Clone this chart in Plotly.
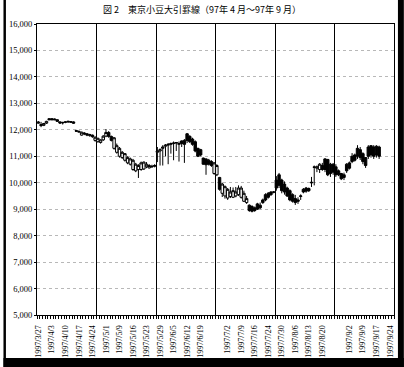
import plotly.graph_objects as go

title_text = "図 2　東京小豆大引罫線（97年 4 月～97年 9 月）"

# trading-day candles (index = trading day, 0 = 1997/3/27)
opens = [12250,12200,12170,12250,12420,12420,12410,12380,12300,12260,12280,12300,12310,12300,11970,11940,11800,11880,11850,11780,11800,11600,
         11550,11520,11620,11760,11900,11750,11300,11150,11000,10950,10850,10750,10700,10500,10450,10500,10500,10520,10600,10560,10600,10620,
         11150,11200,11300,11380,11420,11450,11480,11500,11450,11580,11600,11850,11750,11650,11550,11300,11250,10930,10900,10850,10800,10350,
         10300,10200,9600,9500,9420,9480,9450,9500,9550,9450,9300,9250,9150,9100,9050,9200,9150,9350,9550,9600,9650,9640,
         10100,10300,10100,9950,9800,9700,9550,9400,9350,9480,9750,9800,9780,10020,10600,10550,10500,10650,10900,10880,10700,10700,
         10600,10450,10350,10300,10700,10750,11000,11050,11300,11250,11100,10950,11350,11400,11350,11380,11350]
highs = [12330,12300,12260,12340,12440,12440,12430,12400,12320,12300,12320,12340,12330,12320,12000,11980,11930,11910,11880,11850,11820,11750,
         11700,11640,11800,12030,11950,11780,11720,11480,11350,11200,11120,11000,10950,10900,10750,10700,10800,10800,10780,10700,10680,10700,
         11350,11300,11420,11460,11500,11520,11560,11540,11560,11600,11650,11880,11800,11700,11600,11320,11280,10950,10920,10900,10850,10780,
         10700,10220,10000,9900,9800,9840,9820,9840,9900,9880,9700,9500,9180,9150,9100,9240,9250,9400,9600,9650,9680,9680,
         10250,10370,10150,10050,9850,9750,9600,9540,9450,9560,9800,9840,9820,10220,10650,10650,10740,10750,10930,10900,10750,10740,
         10700,10500,10370,10380,10740,10800,11120,11100,11420,11350,11150,10970,11420,11420,11420,11420,11400]
lows = [12230,12100,12140,12220,12370,12370,12370,12300,12220,12200,12250,12260,12270,12230,11930,11900,11780,11800,11760,11740,11700,11550,
        11520,11480,11580,11720,11700,11560,11250,11100,10950,10900,10800,10700,10650,10450,10400,10180,10450,10480,10550,10540,10560,10580,
        10780,10650,10650,11000,10700,11100,10850,11200,10800,11350,10750,11500,11500,11400,11150,10970,11000,10680,10300,10650,10600,10300,
        10250,9700,9460,9400,9350,9420,9420,9450,9500,9400,9270,9200,8900,8880,8900,8970,9000,9200,9300,9400,9500,9600,
        9700,9800,9600,9550,9460,9300,9250,9160,9200,9350,9600,9620,9650,9840,9900,10400,10370,10450,10400,10250,10220,10300,
        10220,10250,10100,10100,10370,10500,10740,10800,10900,10860,10700,10560,10900,10950,10900,10950,10900]
closes = [12290,12160,12240,12320,12380,12380,12380,12320,12260,12280,12300,12320,12290,12250,11950,11920,11910,11850,11800,11820,11740,11720,
          11680,11620,11760,11900,11750,11600,11700,11400,11300,11150,11100,10950,10900,10850,10700,10650,10750,10780,10700,10650,10620,10650,
          11200,11250,11350,11420,11450,11480,11500,11520,11480,11480,11450,11600,11550,11450,11200,11000,11050,10700,10680,10700,10650,10750,
          10650,9750,9950,9850,9750,9650,9700,9650,9800,9800,9600,9400,8950,8920,8950,9000,9050,9250,9350,9450,9550,9650,
          9800,9900,9700,9650,9500,9350,9300,9250,9300,9500,9650,9680,9700,10000,10580,10600,10700,10500,10500,10300,10350,10400,
          10300,10300,10150,10200,10450,10550,10800,10850,11000,10950,10800,10650,11000,11050,11000,11050,11000]

# date labels every 5 trading days (blank where the original shows none)
tick_pos = list(range(0, 131, 5))
tick_text = ["1997/3/27","1997/4/3","1997/4/10","1997/4/17","1997/4/24","1997/5/1","1997/5/9",
             "1997/5/16","1997/5/23","1997/5/29","1997/6/5","1997/6/12","1997/6/19","",
             "1997/7/2","1997/7/9","1997/7/16","1997/7/24","1997/7/30","1997/8/6","1997/8/13",
             "1997/8/20","","1997/9/2","1997/9/9","1997/9/17","1997/9/24"]
n_categories = 132
separator_every = 22

x = list(range(len(opens)))

fig = go.Figure()
fig.add_trace(go.Candlestick(
    x=x, open=opens, high=highs, low=lows, close=closes,
    increasing=dict(line=dict(color="black", width=1), fillcolor="white"),
    decreasing=dict(line=dict(color="black", width=1), fillcolor="black"),
    whiskerwidth=0, showlegend=False, hoverinfo="skip"))
# dummy trace for the separator axis
fig.add_trace(go.Scatter(x=[], y=[], xaxis="x2", yaxis="y", showlegend=False))

serif = "Liberation Serif"
sep_pos = [k * separator_every - 0.5 for k in range(1, n_categories // separator_every + 1)]

fig.update_layout(
    width=404, height=367,
    margin=dict(l=33, r=9, t=24, b=52),
    paper_bgcolor="white", plot_bgcolor="white",
    boxgap=0.05, boxgroupgap=0.05,
    title=dict(text=title_text, x=0.5, xanchor="center", y=0.972, yanchor="middle",
               font=dict(family="Noto Sans CJK JP", size=9, color="black")),
    xaxis=dict(range=[-0.5, n_categories - 0.5], rangeslider=dict(visible=False),
               tickmode="array", tickvals=tick_pos, ticktext=tick_text, tickangle=-90,
               tickfont=dict(family=serif, size=8, color="black"), ticks="",
               ticklabelstandoff=6,
               showline=True, linecolor="black", linewidth=1, mirror=True,
               showgrid=False, zeroline=False,
               minor=dict(tickmode="linear", tick0=-0.5, dtick=1, ticks="outside",
                          ticklen=3, tickcolor="black", tickwidth=1, showgrid=False)),
    xaxis2=dict(overlaying="x", matches="x", range=[-0.5, n_categories - 0.5],
                tickmode="array", tickvals=sep_pos, showticklabels=False, ticks="",
                showgrid=True, gridcolor="black", gridwidth=1, showline=False, zeroline=False),
    yaxis=dict(range=[5000, 16000], tickmode="linear", tick0=5000, dtick=1000,
               tickformat=",", tickfont=dict(family=serif, size=8.5, color="black"),
               ticks="outside", ticklen=2, tickcolor="black",
               showline=True, linecolor="black", linewidth=1, mirror=True,
               showgrid=True, gridcolor="#b8b8b8", gridwidth=1, griddash="dot", zeroline=False),
    shapes=[
        dict(type="rect", xref="paper", yref="paper", x0=(399-33)/362, x1=(405-33)/362,
             y0=(315-368)/291, y1=(315+1)/291 + 24/291, fillcolor="black", line=dict(width=0), layer="above"),
        dict(type="rect", xref="paper", yref="paper", x0=-34/362, x1=(405-33)/362,
             y0=(315-368)/291, y1=(315-358)/291, fillcolor="black", line=dict(width=0), layer="above"),
        dict(type="rect", xref="paper", yref="paper", x0=-34/362, x1=(1.5-33)/362,
             y0=(315-368)/291, y1=(315+1)/291 + 24/291, fillcolor="black", line=dict(width=0), layer="above"),
    ],
)

fig.write_html("out.html")
